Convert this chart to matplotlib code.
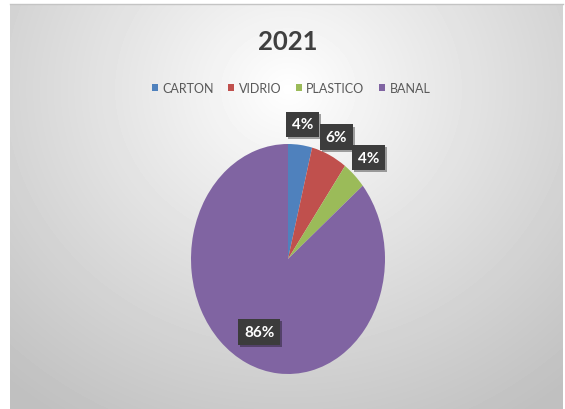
import numpy as np
import matplotlib
matplotlib.use('Agg')
import matplotlib.pyplot as plt
from matplotlib import patheffects
from matplotlib.lines import Line2D

plt.rcParams['font.family'] = ['Lato', 'DejaVu Sans']

# datos 2021
categorias = ['CARTON', 'VIDRIO', 'PLASTICO', 'BANAL']
valores = [4, 6, 4, 86]
colores = ['#4F81BD', '#C0504D', '#9BBB59', '#8064A2']
# distancia radial de cada etiqueta (fuera para los sectores pequeños)
dist_etiqueta = [1.18, 1.17, 1.21, 0.70]

W, H = 565, 410
fig = plt.figure(figsize=(W / 100, H / 100), dpi=100)
fig.patch.set_facecolor('white')

# fondo con degradado radial
fondo = fig.add_axes([10 / W, 0, (563 - 10) / W, (H - 5) / H])
fondo.axis('off')
yy, xx = np.mgrid[5:H, 10:563]
d = np.hypot(xx - 288, (yy - 90) * 1.1)
tono = 1 - 0.25 * np.clip(d / 430, 0, 1) ** 0.95
fondo.imshow(tono, cmap='gray', vmin=0, vmax=1, aspect='auto', interpolation='bilinear')
fig.add_artist(Line2D([10 / W, 563 / W], [1 - 5 / H] * 2, color='#c4c4c4', lw=1))

# titulo
fig.text(288 / W, 1 - 42 / H, '2021', ha='center', va='center',
         fontsize=18.5, fontweight='bold', color='#404040')

# grafico de sectores (eliptico)
ax = fig.add_axes([(288 - 97) / W, (H - 260 - 115) / H, 194 / W, 230 / H])
sectores, _ = ax.pie(valores, colors=colores, startangle=90, counterclock=False,
                     radius=1, wedgeprops=dict(linewidth=0))
ax.set_aspect('auto')
ax.set_xlim(-1, 1)
ax.set_ylim(-1, 1)

total = sum(valores)
for s, v, r in zip(sectores, valores, dist_etiqueta):
    ang = np.deg2rad((s.theta1 + s.theta2) / 2)
    t = ax.text(r * np.cos(ang), r * np.sin(ang), f'{v / total * 100:.0f}%',
                ha='center', va='center', color='white', fontweight='bold', fontsize=11,
                bbox=dict(boxstyle='square,pad=0.38', fc='#3c3c3c', ec='none'))
    t.get_bbox_patch().set_path_effects([
        patheffects.SimplePatchShadow(offset=(1.5, -1.5), shadow_rgbFace='black', alpha=0.35),
        patheffects.Normal()])

# leyenda
fig.legend(sectores, categorias, loc='center', bbox_to_anchor=(291 / W, 1 - 89 / H),
           ncol=4, frameon=False, handlelength=0.5, handleheight=0.5,
           handletextpad=0.35, columnspacing=1.15, labelcolor='#595959', fontsize=9)

fig.savefig('out.png', dpi=100)
